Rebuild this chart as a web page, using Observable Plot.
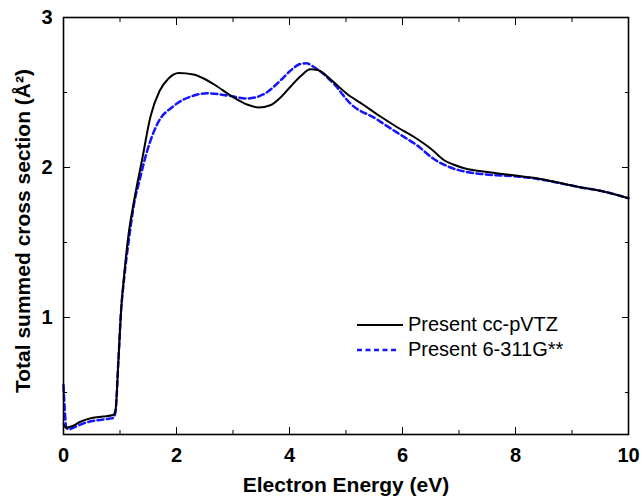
<!DOCTYPE html>
<html><head><meta charset="utf-8">
<script src="https://cdn.jsdelivr.net/npm/d3@7"></script>
<script src="https://cdn.jsdelivr.net/npm/@observablehq/plot@0.6"></script>
<style>
body{margin:0;background:#fff;}
#wrap{position:relative;width:641px;height:502px;font-family:"Liberation Sans",Arial,sans-serif;}
#legend{position:absolute;left:357px;top:312px;font-size:20px;color:#000;line-height:25px;}
.row{display:flex;align-items:center;height:25px;white-space:nowrap;}
.row svg{margin-right:5px;}
</style></head><body><div id="wrap"></div>
<script>
const seriesNames = ["Present cc-pVTZ", "Present 6-311G**"];
const energyCC = [0,0.04,0.15,0.3,0.5,0.7,0.88,0.92,0.97,1.02,1.07,1.15,1.25,1.39,1.54,1.7,1.85,2.04,2.3,2.5,2.66,3.0,3.25,3.45,3.66,3.85,4.02,4.2,4.37,4.5,4.75,5.02,5.3,5.61,5.9,6.26,6.58,6.65,6.73,6.9,7.14,7.4,7.73,8.0,8.32,8.6,8.91,9.2,9.5,9.75,10];
const sigmaCC = [0.29,0.265,0.275,0.305,0.33,0.34,0.35,0.38,0.7,1.05,1.27,1.55,1.78,2.05,2.34,2.51,2.59,2.63,2.62,2.59,2.555,2.47,2.42,2.40,2.415,2.47,2.54,2.61,2.655,2.65,2.58,2.49,2.42,2.34,2.27,2.19,2.10,2.075,2.05,2.02,1.99,1.975,1.958,1.946,1.931,1.912,1.887,1.865,1.845,1.822,1.795];
const energy6 = [0,0.02,0.05,0.1,0.2,0.4,0.6,0.8,0.88,0.92,0.97,1.02,1.07,1.15,1.27,1.33,1.48,1.66,1.95,2.31,2.54,2.9,3.25,3.55,3.84,4.0,4.19,4.3,4.43,4.78,5.08,5.55,5.67,6.0,6.26,6.55,6.85,7.14,7.44,8.03,8.32,8.6,8.91,9.2,9.5,9.75,10];
const sigma6 = [0.55,0.40,0.265,0.255,0.27,0.30,0.315,0.325,0.33,0.37,0.7,1.05,1.25,1.5,1.80,1.89,2.11,2.29,2.41,2.48,2.495,2.48,2.46,2.49,2.58,2.64,2.69,2.695,2.67,2.56,2.425,2.32,2.29,2.21,2.147,2.058,2.0,1.97,1.955,1.94,1.928,1.91,1.886,1.864,1.845,1.822,1.795];
const xMajor = [0,2,4,6,8,10];
const xMinor = [1,3,5,7,9];
const yMajor = [1,2,3];
const yMinor = [0.5,1.5,2.5];
const xDomain = [0,10];
const yDomain = [0.22,3];

const ccData = energyCC.map((e,i)=>({e, s: sigmaCC[i]}));
const g6Data = energy6.map((e,i)=>({e, s: sigma6[i]}));

const tickFont = {fontSize: 20, fontWeight: "bold"};
const none = () => "";
const plot = Plot.plot({
  width: 641, height: 502,
  marginLeft: 63, marginRight: 13, marginTop: 17, marginBottom: 68,
  style: {fontFamily: "'Liberation Sans', Arial, sans-serif", color: "#000", background: "#fff"},
  x: {domain: xDomain},
  y: {domain: yDomain},
  marks: [
    Plot.axisX(xMajor, {anchor: "bottom", tickSize: -7, tickPadding: 20, tickFormat: d => String(d), ...tickFont,
      label: "Electron Energy (eV)", labelAnchor: "center", labelArrow: "none", labelOffset: 57}),
    Plot.axisX(xMinor, {anchor: "bottom", tickSize: -4, tickFormat: none, label: null}),
    Plot.axisX(xMajor, {anchor: "top", tickSize: -7, tickFormat: none, label: null}),
    Plot.axisX(xMinor, {anchor: "top", tickSize: -4, tickFormat: none, label: null}),
    Plot.axisY(yMajor, {anchor: "left", tickSize: -7, tickPadding: 18, tickFormat: d => String(d), ...tickFont,
      label: "Total summed cross section (Å²)", labelAnchor: "center", labelArrow: "none", labelOffset: 48}),
    Plot.axisY(yMinor, {anchor: "left", tickSize: -4, tickFormat: none, label: null}),
    Plot.axisY(yMajor, {anchor: "right", tickSize: -7, tickFormat: none, label: null}),
    Plot.axisY(yMinor, {anchor: "right", tickSize: -4, tickFormat: none, label: null}),
    Plot.line(g6Data, {x: "e", y: "s", stroke: "#1414ff", strokeWidth: 2.5, strokeDasharray: "6,3.5", curve: "monotone-x"}),
    Plot.line(ccData, {x: "e", y: "s", stroke: "#000", strokeWidth: 2, curve: "monotone-x"}),
    Plot.frame({stroke: "#000", strokeWidth: 1.6})
  ]
});
// style axis titles
plot.querySelectorAll("[aria-label='x-axis label'] text, [aria-label='y-axis label'] text").forEach(t => {
  t.setAttribute("font-size", 21); t.setAttribute("font-weight", "bold");
});
const yl = plot.querySelector("[aria-label='y-axis label']");
if (yl) yl.setAttribute("transform", "translate(0,5) " + (yl.getAttribute("transform") || ""));
const wrap = document.getElementById("wrap");
wrap.appendChild(plot);
const legend = document.createElement("div");
legend.id = "legend";
legend.innerHTML = `
<div class="row"><svg width="46" height="6"><line x1="0" y1="3" x2="46" y2="3" stroke="#000" stroke-width="2"/></svg><span>${seriesNames[0]}</span></div>
<div class="row"><svg width="46" height="6"><line x1="0" y1="3" x2="42" y2="3" stroke="#1414ff" stroke-width="2.5" stroke-dasharray="5,3.5"/></svg><span>${seriesNames[1]}</span></div>`;
wrap.appendChild(legend);
</script>
</body></html>
